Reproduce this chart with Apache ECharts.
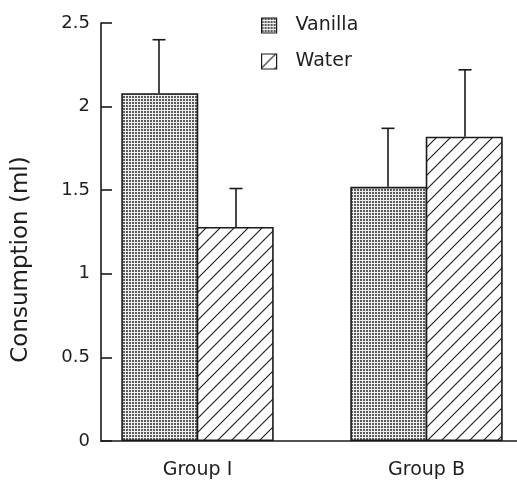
<!DOCTYPE html>
<html>
<head>
<meta charset="utf-8">
<script src="https://cdn.jsdelivr.net/npm/echarts@6/dist/echarts.min.js"></script>
<style>
html,body{margin:0;padding:0;background:#fff;overflow:hidden;}
#chart{width:517px;height:480px;}
</style>
</head>
<body>
<div id="chart"></div>
<script>
// ---- data ----
const categories = ['Group I', 'Group B'];
const seriesNames = ['Vanilla', 'Water'];
const vanillaMeans = [2.08, 1.52];
const vanillaUpper = [2.40, 1.87];
const waterMeans = [1.28, 1.82];
const waterUpper = [1.51, 2.22];
const yTicks = { min: 0, max: 2.5, interval: 0.5 };

// ---- patterns ----
function stipple() {
  const c = document.createElement('canvas');
  c.width = 3; c.height = 3;
  const g = c.getContext('2d');
  g.fillStyle = '#eeeeee'; g.fillRect(0, 0, 3, 3);
  g.fillStyle = '#5a5a5a'; g.fillRect(0, 0, 2, 2);
  return c;
}
function hatch() {
  const s = 14;
  const c = document.createElement('canvas');
  c.width = s; c.height = s;
  const g = c.getContext('2d');
  g.fillStyle = '#ffffff'; g.fillRect(0, 0, s, s);
  g.strokeStyle = '#222'; g.lineWidth = 1.2;
  g.beginPath();
  g.moveTo(-2, s + 2); g.lineTo(s + 2, -2);
  g.moveTo(-2, 2); g.lineTo(2, -2);
  g.moveTo(s - 2, s + 2); g.lineTo(s + 2, s - 2);
  g.stroke();
  return c;
}
const fills = [
  { image: stipple(), repeat: 'repeat' },
  { image: hatch(), repeat: 'repeat' }
];

const FONT = 'DejaVu Sans';
const TXT = '#1e1e1e';
const BAR_W = 77;

const chart = echarts.init(document.getElementById('chart'), null, { renderer: 'canvas' });

function errRender(offsetSign) {
  return function (params, api) {
    const c = api.value(0);
    const p0 = api.coord([c, api.value(1)]);
    const p1 = api.coord([c, api.value(2)]);
    const x = p0[0] + offsetSign * BAR_W / 2;
    const st = { stroke: '#1a1a1a', lineWidth: 1.6 };
    return {
      type: 'group',
      children: [
        { type: 'line', shape: { x1: x, y1: p0[1], x2: x, y2: p1[1] }, style: st },
        { type: 'line', shape: { x1: x - 6.5, y1: p1[1], x2: x + 6.5, y2: p1[1] }, style: st }
      ]
    };
  };
}

const meansList = [vanillaMeans, waterMeans];
const upperList = [vanillaUpper, waterUpper];
const catIdx = categories.map((c, k) => k);

const option = {
  backgroundColor: '#ffffff',
  animation: false,
  textStyle: { fontFamily: FONT, color: TXT },
  legend: {
    data: seriesNames,
    orient: 'vertical',
    left: 256, top: 11,
    itemWidth: 15, itemHeight: 15,
    itemGap: 17,
    icon: 'rect',
    itemStyle: { borderColor: '#1a1a1a', borderWidth: 1.2 },
    textStyle: { fontFamily: FONT, fontSize: 19, color: TXT, padding: [0, 0, 0, 14] }
  },
  grid: { left: 101, right: 0, top: 23, bottom: 39 },
  xAxis: {
    type: 'value', min: -0.4214, max: 1.3952,
    axisLine: { show: true, onZero: false, lineStyle: { color: '#1a1a1a', width: 1.6 } },
    axisTick: { show: false },
    splitLine: { show: false },
    axisLabel: {
      customValues: catIdx,
      formatter: (v) => categories[Math.round(v)],
      fontFamily: FONT, fontSize: 19, color: TXT, margin: 20
    }
  },
  yAxis: {
    type: 'value', min: yTicks.min, max: yTicks.max, interval: yTicks.interval,
    axisLine: { show: true, onZero: false, lineStyle: { color: '#1a1a1a', width: 1.6 } },
    axisTick: { show: true, inside: true, length: 11, lineStyle: { color: '#1a1a1a', width: 1.6 } },
    axisLabel: { fontFamily: FONT, fontSize: 18, color: TXT, margin: 11 },
    splitLine: { show: false },
    name: 'Consumption (ml)',
    nameLocation: 'middle',
    nameGap: 68,
    nameTextStyle: { fontFamily: FONT, fontSize: 23, color: TXT, padding: [0, 55, 0, 0] }
  },
  series: [
    ...seriesNames.map((name, i) => ({
      name: name,
      type: 'bar',
      barWidth: BAR_W, barGap: '-2%',
      data: catIdx.map(k => [k, meansList[i][k]]),
      itemStyle: { color: fills[i], borderColor: '#1a1a1a', borderWidth: 1.6 },
      z: 2
    })),
    ...seriesNames.map((name, i) => ({
      name: name + ' error',
      type: 'custom',
      renderItem: errRender(i === 0 ? -1 : 1),
      encode: { x: 0, y: [1, 2] },
      data: catIdx.map(k => [k, meansList[i][k], upperList[i][k]]),
      z: 3,
      silent: true
    }))
  ]
};
chart.setOption(option);
</script>
</body>
</html>
